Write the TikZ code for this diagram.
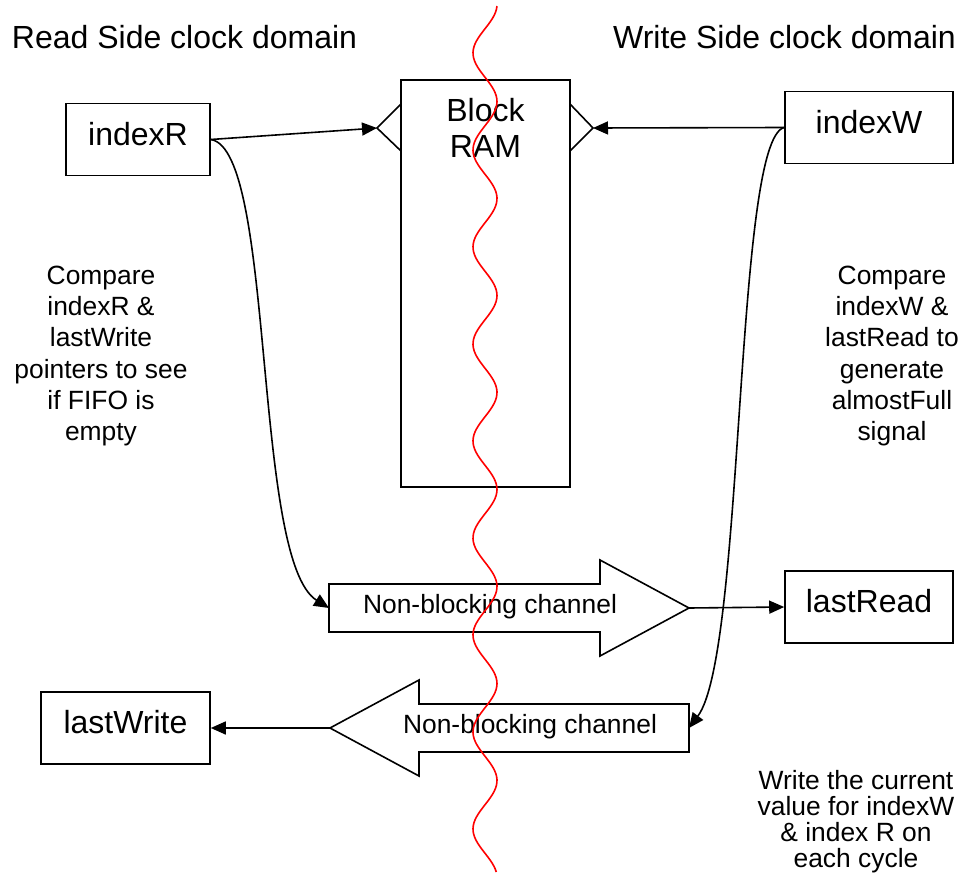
\documentclass[tikz,border=0pt]{standalone}
\usepackage{fontspec}
\setmainfont{Liberation Sans}
\usepackage{tikz}
\usetikzlibrary{
    arrows.meta,
    calc,
    positioning
}
\newcommand{\titlefont}{\fontsize{32}{36}\selectfont}
\newcommand{\notefont}{\fontsize{26.4}{31.3}\selectfont}
\newcommand{\tightnotefont}{\fontsize{26.4}{26}\selectfont}

\begin{document}
\begin{tikzpicture}[x=1pt, y=-1pt, line width=1.6pt,
    box/.style={draw, font=\titlefont, minimum height=72pt, text height=24pt, text depth=13pt, inner sep=0pt},
    note/.style={font=\notefont, align=center, inner sep=0pt},
    link/.style={-{Triangle[length=15pt, width=13pt]}}]
                        \useasboundingbox (0, 0) rectangle (967, 883);
                        \node[font=\titlefont] (readSide) at (184.5, 37) {Read Side clock domain};
                        \node[font=\titlefont] (writeSide) at (784.5, 37) {Write Side clock domain};
                        \node[box, minimum width=144pt] (indexR) at (138, 139.5) {indexR};
                        \node[box, minimum width=168pt] (indexW) at (869, 127.5) {indexW};
                        \node[box, minimum width=168pt] (lastRead) at (869, 607) {lastRead};
                        \node[box, minimum width=169pt] (lastWrite) at (125.5, 728) {lastWrite};
                        \node[draw, minimum width=169pt, minimum height=407pt, inner sep=0pt] (bram) at (485.5, 283.5) {};
                        \node[font=\titlefont, align=center, inner sep=0pt] (bramLabel) at (485.5, 128) {Block\\RAM};
                        \coordinate (bramInL) at (377, 128);
                        \coordinate (bramInR) at (593, 128);
                        \draw
                        (401, 104) -- (bramInL) -- (401, 151)
                        (570, 104) -- (bramInR) -- (570, 151);
                        \draw[link] (indexR.east) -- (bramInL);
                        \draw[link] (indexW.west) -- (bramInR);
                        \coordinate (rdTail) at (329, 608);
                        \coordinate (rdTip) at (689, 608);
                        \draw (rdTail) -- (329, 584) -- (600, 584) -- (600, 560) -- (rdTip)
                        -- (600, 656) -- (600, 632) -- (329, 632) -- cycle;
                        \node[note] (rdText) at (490, 607) {Non-blocking channel};
                        \coordinate (wrTip) at (330, 728);
                        \coordinate (wrTail) at (689, 728);
                        \draw (wrTip) -- (419, 680) -- (419, 704) -- (689, 704) -- (wrTail)
                        -- (689, 752) -- (419, 752) -- (419, 776) -- cycle;
                        \node[note] (wrText) at (530, 727) {Non-blocking channel};
                        \draw[link] (indexR.east) .. controls +(65, 10) and +(-77, -48) .. (rdTail);
                        \draw[link] (rdTip) -- (lastRead.west);
                        \draw[link] (indexW.west) .. controls +(-50, 12) and +(56, -75) .. (wrTail);
                        \draw[link] (wrTip) -- (lastWrite.east);
                        \node[note] (emptyNote) at (101, 356) {Compare\\indexR \&\\lastWrite\\pointers to see\\if FIFO is\\empty};
                        \node[note] (fullNote) at (892, 356) {Compare\\indexW \&\\lastRead to\\generate\\almostFull\\signal};
                        \node[note, font=\tightnotefont] (cycleNote) at (856, 822) {Write the current\\value for indexW\\\& index R on\\each cycle};
                        \draw[red] plot[domain=6:872, samples=300, smooth] ({485 + 12*cos(3.71134*(\x - 4.5))}, \x);
                    \end{tikzpicture}
\end{document}
